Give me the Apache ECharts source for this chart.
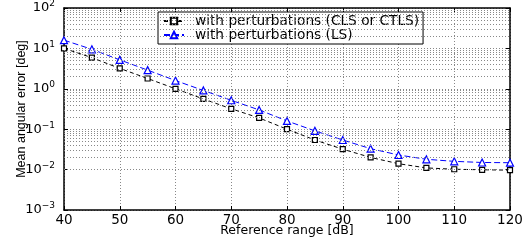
<!DOCTYPE html>
<html><head><meta charset="utf-8">
<script src="https://cdn.jsdelivr.net/npm/echarts@6/dist/echarts.min.js"></script>
<style>html,body{margin:0;padding:0;background:#fff}#c{width:531px;height:242px}</style>
</head><body><div id="c"></div>
<script>
const ranges = [40,45,50,55,60,65,70,75,80,85,90,95,100,105,110,115,120];
const errCLS = [10,5.9,3.2,1.8,1.0,0.56,0.32,0.19,0.1,0.054,0.032,0.02,0.014,0.011,0.0102,0.0099,0.0097];
const errLS = [16,9.5,5.2,2.9,1.6,0.91,0.52,0.30,0.16,0.091,0.054,0.033,0.023,0.018,0.016,0.015,0.0148];
const seriesNames = ['with perturbations (CLS or CTLS)','with perturbations (LS)'];
const decades = [-3,-2,-1,0,1];
const minorMults = [2,3,4,5,6,7,8,9];
const FONT = 'DejaVu Sans';
const chart = echarts.init(document.getElementById('c'), null, {renderer:'canvas'});
const grid = {left:64, right:21, top:8, bottom:32, outerBoundsMode:'none', containLabel:false};
const dotted = {color:'#888', width:1, type:[1,2]};
function supLabel(v){
  const e = Math.round(Math.log10(v));
  return '{b|10}{s|' + (e<0 ? '\u2212'+(-e) : e) + '}';
}
const minorLines = [];
decades.forEach(d => minorMults.forEach(m => minorLines.push({yAxis: m*Math.pow(10,d)})));
chart.setOption({
  animation:false,
  grid: grid,
  xAxis: [{
    type:'value', min:40, max:120, interval:10,
    name:'Reference range [dB]', nameLocation:'middle', nameGap:14, nameMoveOverlap:false,
    nameTextStyle:{fontFamily:FONT, fontSize:12.5, color:'#000'},
    axisLine:{show:true, onZero:false, lineStyle:{color:'#000', width:1.5}},
    axisTick:{show:true, inside:true, length:4, lineStyle:{color:'#000'}},
    axisLabel:{fontFamily:FONT, fontSize:13.5, color:'#000', margin:3},
    splitLine:{show:true, lineStyle:dotted}
  },{
    type:'value', min:40, max:120, interval:10, position:'top',
    axisLine:{show:true, onZero:false, lineStyle:{color:'#000', width:1.5}},
    axisTick:{show:true, inside:true, length:4, lineStyle:{color:'#000'}},
    axisLabel:{show:false}, splitLine:{show:false}
  }],
  yAxis: [{
    type:'log', logBase:10, min:0.001, max:100,
    name:'Mean angular error [deg]', nameLocation:'middle', nameGap:36, nameMoveOverlap:false,
    nameTextStyle:{fontFamily:'Liberation Sans', fontSize:12.5, color:'#000'},
    axisLine:{show:true, onZero:false, lineStyle:{color:'#000', width:1.5}},
    axisTick:{show:true, inside:true, length:4, lineStyle:{color:'#000'}},
    axisLabel:{formatter:supLabel, margin:9, rich:{
      b:{fontFamily:FONT, fontSize:13, color:'#000'},
      s:{fontFamily:FONT, fontSize:9, color:'#000', padding:[0,0,8,0]}
    }},
    splitLine:{show:true, lineStyle:dotted}
  },{
    type:'log', logBase:10, min:0.001, max:100, position:'right',
    axisLine:{show:true, onZero:false, lineStyle:{color:'#000', width:1.5}},
    axisTick:{show:true, inside:true, length:4, lineStyle:{color:'#000'}},
    axisLabel:{show:false}, splitLine:{show:false}
  }],
  legend:{
    orient:'vertical', left:158, top:12, padding:[2,4,2,5], itemGap:0,
    itemWidth:20, itemHeight:8,
    backgroundColor:'#fff', borderColor:'#000', borderWidth:1,
    textStyle:{fontFamily:FONT, fontSize:13.7, color:'#000', padding:[0,0,0,6]},
    data: seriesNames
  },
  series:[{
    name:'minor-grid', type:'line', data:[], silent:true,
    markLine:{silent:true, symbol:'none', label:{show:false}, animation:false,
      lineStyle:{color:'#888', width:1, type:[1,2]}, data:minorLines}
  },{
    name:seriesNames[0], type:'line', data: ranges.map((x,i)=>[x,errCLS[i]]),
    symbol:'rect', symbolSize:5, showAllSymbol:true, z:3,
    lineStyle:{color:'#000', width:1, type:[4,3]},
    itemStyle:{color:'#fff', borderColor:'#000', borderWidth:1.2}
  },{
    name:seriesNames[1], type:'line', data: ranges.map((x,i)=>[x,errLS[i]]),
    symbol:'triangle', symbolSize:7, showAllSymbol:true, z:3,
    lineStyle:{color:'#00f', width:1, type:[6,3]},
    itemStyle:{color:'#fff', borderColor:'#00f', borderWidth:1.2}
  }]
});
</script></body></html>
